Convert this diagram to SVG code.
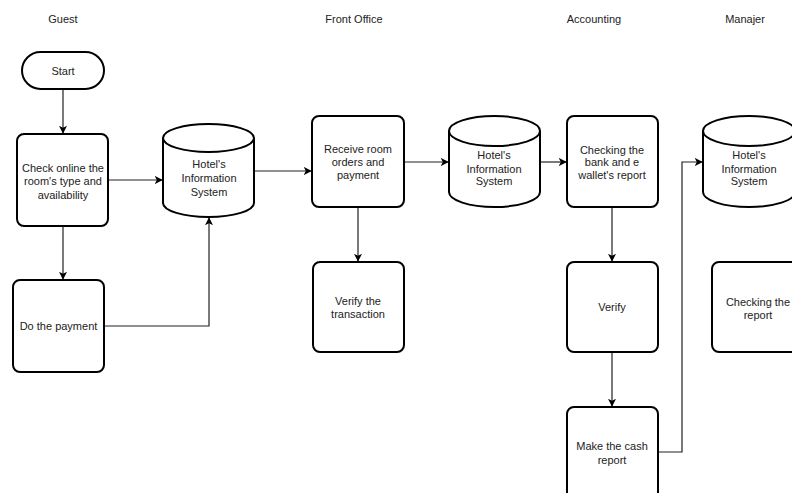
<svg xmlns="http://www.w3.org/2000/svg" width="792" height="493" viewBox="0 0 792 493">
<style>
  .lane{font-family:"Liberation Sans",Arial,sans-serif;font-size:11px;fill:#222;text-anchor:middle}
  .t{font-family:"Liberation Sans",Arial,sans-serif;font-size:11px;fill:#222;text-anchor:middle}
  .box{fill:#fff;stroke:#000;stroke-width:2}
  .edge{fill:none;stroke:#222;stroke-width:1.2}
</style>
<defs>
  <marker id="arr" viewBox="0 0 10 10" refX="9" refY="5" markerWidth="8" markerHeight="8" markerUnits="userSpaceOnUse" orient="auto">
    <path d="M0,0 L10,5 L0,10 L2.5,5 Z" fill="#000"/>
  </marker>
</defs>
<rect width="792" height="493" fill="#fff"/>
<g id="lanes">
  <text class="lane" x="63" y="23">Guest</text>
  <text class="lane" x="354" y="23">Front Office</text>
  <text class="lane" x="594" y="23">Accounting</text>
  <text class="lane" x="745" y="23">Manajer</text>
</g>
<g id="connectors">
  <path class="edge" d="M63,89 L63,133" marker-end="url(#arr)"/>
  <path class="edge" d="M63,226 L63,279" marker-end="url(#arr)"/>
  <path class="edge" d="M109,180 L162,180" marker-end="url(#arr)"/>
  <path class="edge" d="M104,326 L209,326 L209,218" marker-end="url(#arr)"/>
  <path class="edge" d="M254,171 L311,171" marker-end="url(#arr)"/>
  <path class="edge" d="M404,162 L448,162" marker-end="url(#arr)"/>
  <path class="edge" d="M358,207 L358,261" marker-end="url(#arr)"/>
  <path class="edge" d="M540,162 L566,162" marker-end="url(#arr)"/>
  <path class="edge" d="M612,207 L612,261" marker-end="url(#arr)"/>
  <path class="edge" d="M612,352 L612,406" marker-end="url(#arr)"/>
  <path class="edge" d="M658,452 L682,452 L682,162 L702,162" marker-end="url(#arr)"/>
</g>
<g id="start">
  <rect class="box" x="22" y="52" width="82" height="37" rx="18.5"/>
  <text class="t" x="63" y="75">Start</text>
</g>
<g id="check-online">
  <rect class="box" x="17" y="134" width="91" height="92" rx="7"/>
  <text class="t" x="63" y="171.5">Check online the</text>
  <text class="t" x="63" y="185">room's type and</text>
  <text class="t" x="63" y="198.5">availability</text>
</g>
<g id="do-payment">
  <rect class="box" x="13" y="280" width="91" height="92" rx="7"/>
  <text class="t" x="58.5" y="330">Do the payment</text>
</g>
<g id="his-guest">
  <path class="box" d="M163,138 A45.5,14 0 0 1 254,138 L254,203 A45.5,14 0 0 1 163,203 Z"/>
  <path class="box" fill="none" d="M163,138 A45.5,14 0 0 0 254,138"/>
  <text class="t" x="209" y="168">Hotel's</text>
  <text class="t" x="209" y="182">Information</text>
  <text class="t" x="209" y="196">System</text>
</g>
<g id="receive">
  <rect class="box" x="312" y="116" width="92" height="91" rx="7"/>
  <text class="t" x="358" y="153">Receive room</text>
  <text class="t" x="358" y="166">orders and</text>
  <text class="t" x="358" y="179">payment</text>
</g>
<g id="verify-transaction">
  <rect class="box" x="313" y="262" width="91" height="90" rx="7"/>
  <text class="t" x="358" y="305">Verify the</text>
  <text class="t" x="358" y="318">transaction</text>
</g>
<g id="his-front">
  <path class="box" d="M449,131 A45.5,15 0 0 1 540,131 L540,192 A45.5,15 0 0 1 449,192 Z"/>
  <path class="box" fill="none" d="M449,131 A45.5,15 0 0 0 540,131"/>
  <text class="t" x="494" y="159">Hotel's</text>
  <text class="t" x="494" y="173">Information</text>
  <text class="t" x="494" y="185">System</text>
</g>
<g id="checking-bank">
  <rect class="box" x="567" y="116" width="91" height="91" rx="7"/>
  <text class="t" x="612" y="154">Checking the</text>
  <text class="t" x="612" y="166">bank and e</text>
  <text class="t" x="612" y="179">wallet's report</text>
</g>
<g id="verify">
  <rect class="box" x="567" y="262" width="91" height="90" rx="7"/>
  <text class="t" x="612" y="311">Verify</text>
</g>
<g id="cash-report">
  <rect class="box" x="567" y="407" width="91" height="92" rx="7"/>
  <text class="t" x="612" y="450">Make the cash</text>
  <text class="t" x="612" y="464">report</text>
</g>
<g id="his-manager">
  <path class="box" d="M703,131 A46,15 0 0 1 795,131 L795,192 A46,15 0 0 1 703,192 Z"/>
  <path class="box" fill="none" d="M703,131 A46,15 0 0 0 795,131"/>
  <text class="t" x="749" y="159">Hotel's</text>
  <text class="t" x="749" y="173">Information</text>
  <text class="t" x="749" y="185">System</text>
</g>
<g id="checking-report">
  <rect class="box" x="712" y="262" width="92" height="90" rx="7"/>
  <text class="t" x="758" y="306">Checking the</text>
  <text class="t" x="758" y="318.5">report</text>
</g>
</svg>
